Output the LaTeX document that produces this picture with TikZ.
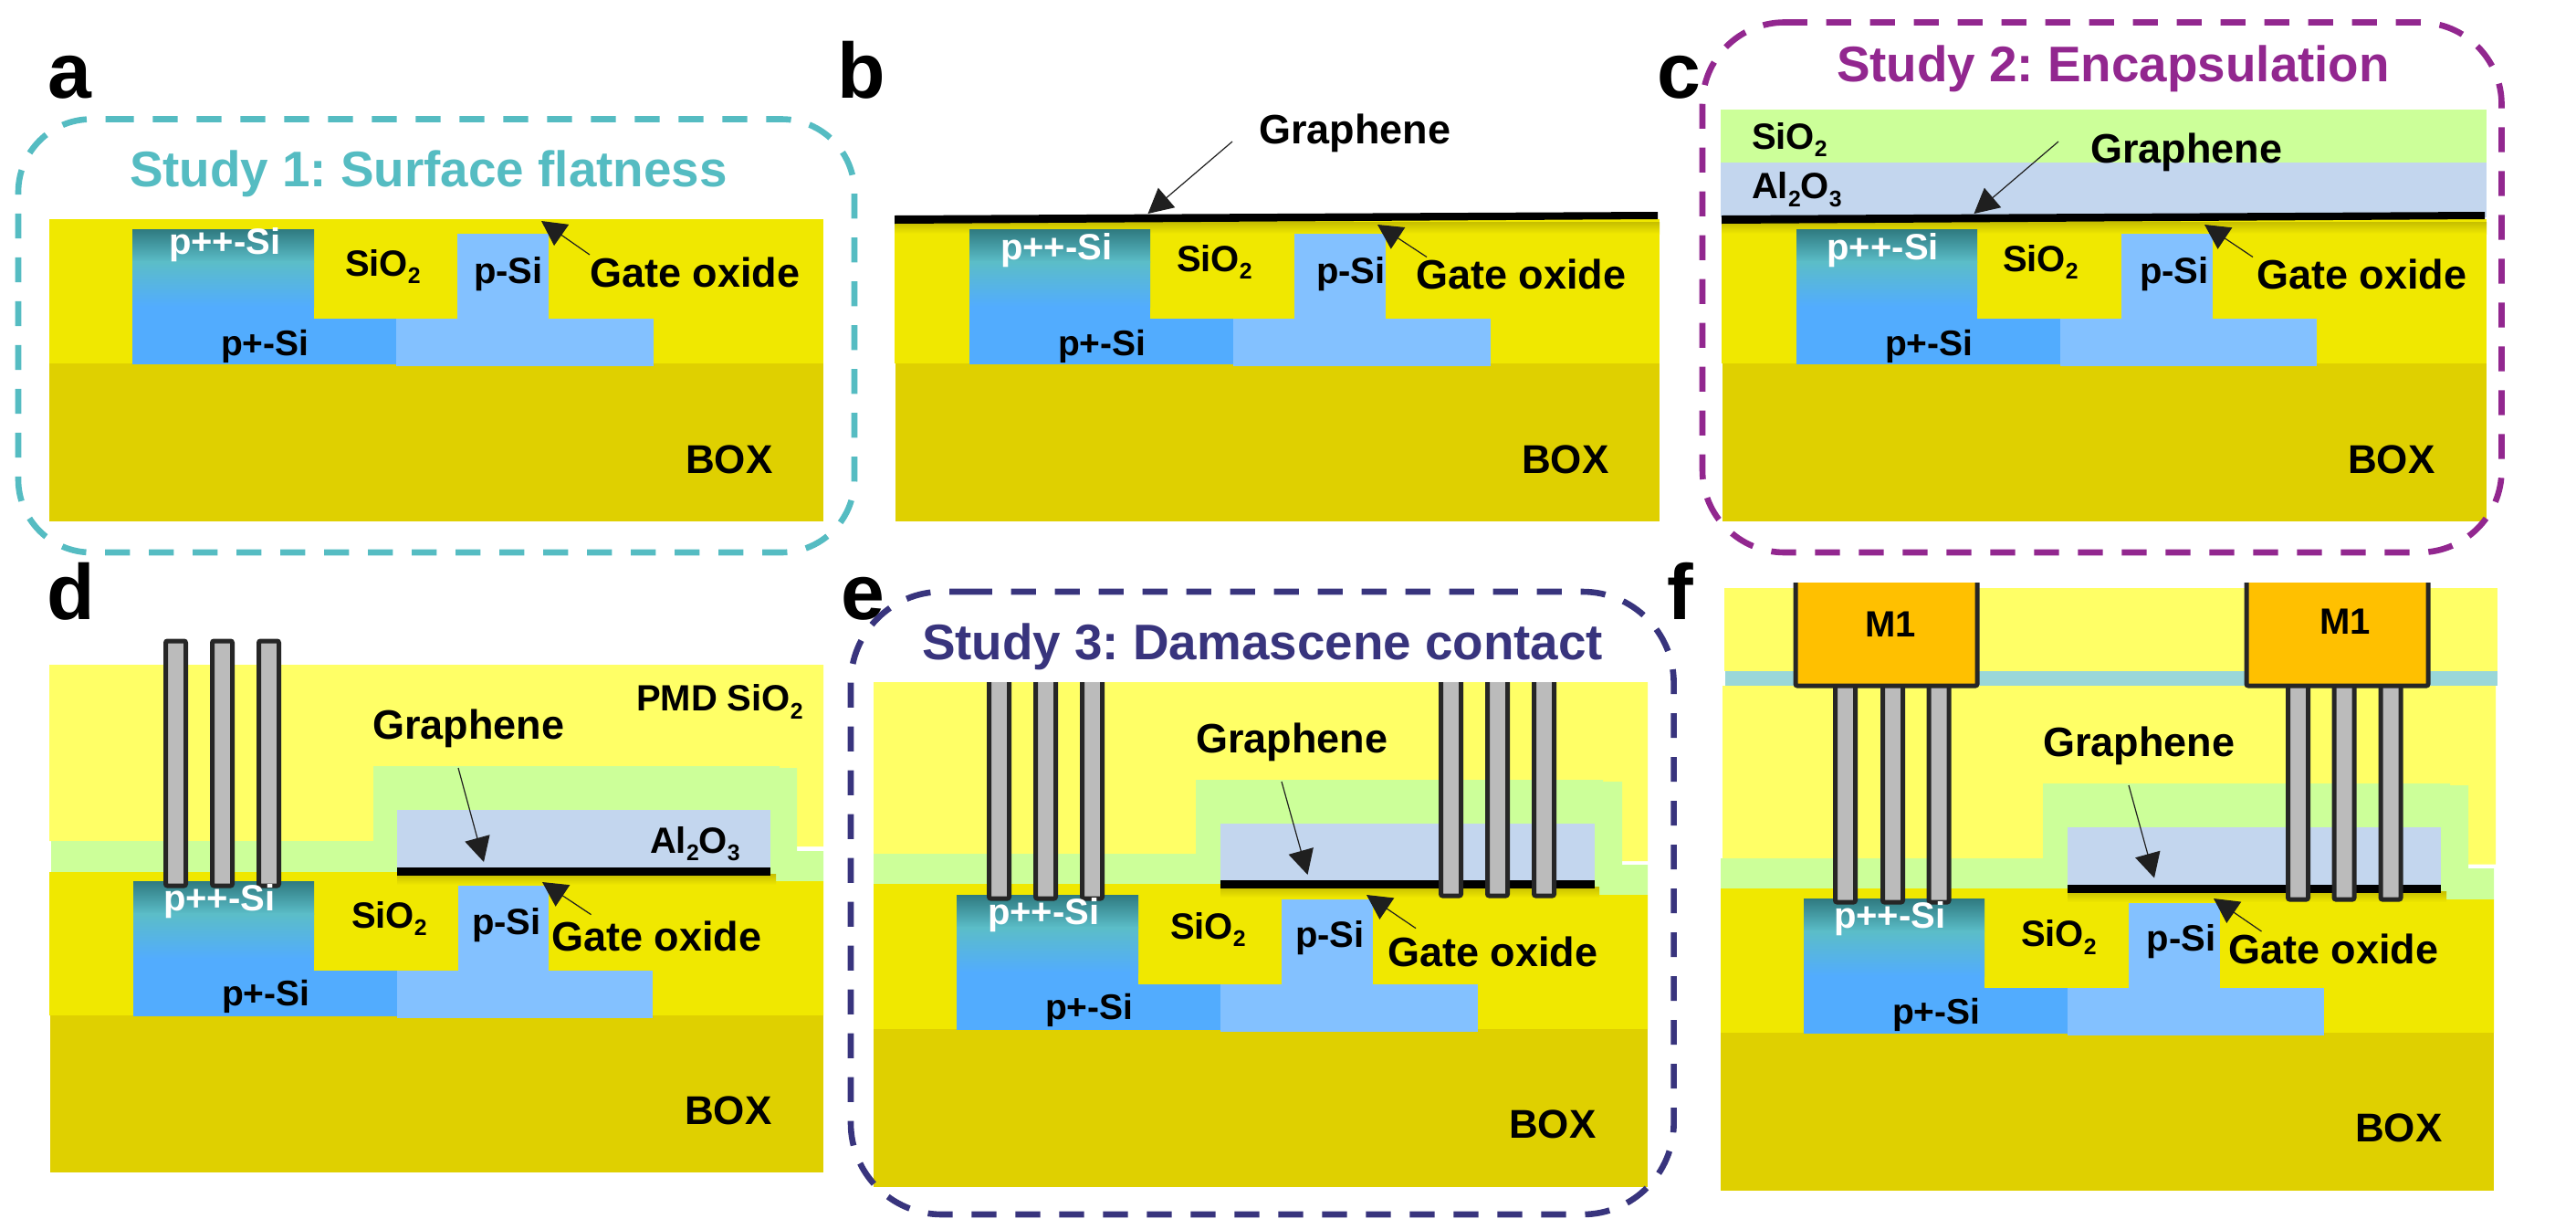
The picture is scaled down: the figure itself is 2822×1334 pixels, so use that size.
\documentclass[tikz,border=0pt]{standalone}
\usepackage{fontspec}
\setmainfont{Liberation Sans}
\usetikzlibrary{arrows.meta}
\frenchspacing
\definecolor{cOx}{HTML}{F0E800}
\definecolor{cBox}{HTML}{DFD000}
\definecolor{cShadow}{HTML}{C6BE00}
\definecolor{cSi}{HTML}{52ACFE}
\definecolor{cLSi}{HTML}{83C1FF}
\definecolor{cTealA}{HTML}{2F7A80}
\definecolor{cTealB}{HTML}{5BBDC8}
\definecolor{cPmd}{HTML}{FFFF66}
\definecolor{cGreen}{HTML}{CCFF99}
\definecolor{cAl}{HTML}{C3D6EE}
\definecolor{cStrip}{HTML}{9AD7D9}
\definecolor{cM}{HTML}{FFC000}
\definecolor{cVia}{HTML}{BBBBBB}
\definecolor{cEdge}{HTML}{262626}
\definecolor{cHead}{HTML}{1F1F1F}
\definecolor{cStudyA}{HTML}{55BCC2}
\definecolor{cStudyB}{HTML}{92278F}
\definecolor{cStudyC}{HTML}{38347D}
\tikzset{
  tbase/.style={anchor=base west,inner sep=0pt,outer sep=0pt},
  tforty/.style={tbase,font=\fontsize{20}{24}\selectfont\bfseries},
  tplus/.style={tforty,font=\fontsize{19.5}{24}\selectfont\bfseries},
  tbig/.style={tbase,font=\fontsize{22.5}{26}\selectfont\bfseries},
  tbox/.style={tbase,font=\fontsize{22}{26}\selectfont\bfseries},
  ttitle/.style={tbase,font=\fontsize{27.4}{32}\selectfont\bfseries},
  tletter/.style={tbase,font=\fontsize{43}{48}\selectfont\bfseries},
  dbox/.style={line width=3.3pt,line cap=butt,dash pattern=on 13.6pt off 10.4pt},
  ptrline/.style={cHead,line width=0.6pt,-{Triangle[length=13.5pt,width=14pt,fill=cHead]}},
  viabar/.style={fill=cVia,draw=cEdge,line width=2.5pt,rounded corners=1pt},
  metalbar/.style={fill=cM,draw=cEdge,line width=2.5pt,rounded corners=1pt}
}
\newcommand\lbl[5]{\node[#2] (#1) at (#3,#4) {#5};}
\newcommand\ptr[5]{\coordinate (#1-tail) at (#2,#3);\coordinate (#1-tip) at (#4,#5);\draw[ptrline] (#1-tail) -- (#1-tip);}
\newcommand\subsc[1]{\raisebox{-0.22em}{\scalebox{0.62}{#1}}}
\newcommand\sio{SiO\subsc{2}}
\newcommand\alo{Al\subsc{2}O\subsc{3}}
% colour, x1, y1, x2, y2, radius, start x of first dash
\newcommand\studybox[7]{\draw[dbox,#1,rounded corners=#6] (#7,#3) -- (#4,#3) -- (#4,#5) -- (#2,#5) -- (#2,#3) -- (#7,#3);}
% top, p++ left, p++ right, p+ right, fin left, fin right, base right
\newcommand\bodies[7]{%
  \begin{scope}[shift={(0,#1)}]
    \fill[cSi] (#2,0) rectangle (#3,148);
    \fill[cSi] (#3,98) rectangle (#4,148);
    \fill[cLSi] (#4,98) rectangle (#7,150);
    \fill[cLSi] (#5,5) rectangle (#6,98.5);
    \shade[top color=cTealA,bottom color=cTealB] (#2,0) rectangle (#3,36);
    \shade[top color=cTealB,bottom color=cSi] (#2,35.8) rectangle (#3,85);
  \end{scope}}
\newcommand\viaopen[3]{\filldraw[viabar] (#1-11,#2) -- (#1-11,#3) -- (#1+11,#3) -- (#1+11,#2);}
\newcommand\viaclosed[3]{\filldraw[viabar] (#1-11,#2) rectangle (#1+11,#3);}
\newcommand\metal[3]{\filldraw[metalbar] (#1,#3) -- (#1,751) -- (#2,751) -- (#2,#3);}
\begin{document}
\begin{tikzpicture}[x=0.5pt,y=-0.5pt]
\useasboundingbox (0,0) rectangle (2822,1334);
\fill[white] (0,0) rectangle (2822,1334);

% ---------- panel a
\fill[cOx] (54,240) rectangle (902,398);
\fill[cBox] (54,398) rectangle (902,571);
\bodies{251}{145}{344}{434}{501}{601}{716}
\lbl{a-pp}{tforty,text=white}{185}{278}{p++-Si}
\lbl{a-sio}{tforty}{378}{302}{\sio}
\lbl{a-ps}{tforty}{519}{310}{p-Si}
\lbl{a-gate}{tbig}{646}{314}{Gate oxide}
\lbl{a-pl}{tplus}{242}{389}{p+-Si}
\lbl{a-box}{tbox}{751}{518}{BOX}
\ptr{a-arrow}{646}{279}{593}{242}
\studybox{cStudyA}{20}{130.5}{936}{605}{40pt}{119.4}
\lbl{a-title}{ttitle,text=cStudyA}{142}{204}{Study 1: Surface flatness}
\lbl{a-letter}{tletter}{53}{107}{a}

% ---------- panel b
\fill[cOx] (980,240) rectangle (1818,398);
\fill[cBox] (981,398) rectangle (1818,571);
\shade[top color=cShadow,bottom color=cOx] (980,243) rectangle (1818,256);
\fill[black] (980,236) -- (1816,232) -- (1816,240) -- (980,245) -- cycle;
\bodies{251}{1062}{1260}{1351}{1418}{1518}{1633}
\lbl{b-pp}{tforty,text=white}{1096}{284}{p++-Si}
\lbl{b-sio}{tforty}{1289}{297}{\sio}
\lbl{b-ps}{tforty}{1442}{310}{p-Si}
\lbl{b-gate}{tbig}{1551}{316}{Gate oxide}
\lbl{b-pl}{tplus}{1159}{389}{p+-Si}
\lbl{b-box}{tbox}{1667}{518}{BOX}
\lbl{b-gr}{tbig}{1379}{157}{Graphene}
\ptr{b-arrow1}{1350}{155}{1257.5}{234}
\ptr{b-arrow2}{1563}{281.5}{1509}{246}
\lbl{b-letter}{tletter}{917}{107}{b}

% ---------- panel c
\fill[cGreen] (1885,120) rectangle (2724,178);
\fill[cAl] (1885,178) rectangle (2724,238);
\fill[cOx] (1886,240) rectangle (2724,398);
\fill[cBox] (1887,398) rectangle (2724,571);
\shade[top color=cShadow,bottom color=cOx] (1886,243) rectangle (2724,256);
\fill[black] (1886,236) -- (2722,232) -- (2722,240) -- (1886,245) -- cycle;
\bodies{251}{1968}{2166}{2257}{2324}{2424}{2538}
\lbl{c-pp}{tforty,text=white}{2001.5}{284}{p++-Si}
\lbl{c-sio}{tforty}{2194}{297}{\sio}
\lbl{c-ps}{tforty}{2344}{310}{p-Si}
\lbl{c-gate}{tbig}{2472}{316}{Gate oxide}
\lbl{c-pl}{tplus}{2065}{389}{p+-Si}
\lbl{c-box}{tbox}{2572}{518}{BOX}
\lbl{c-sio2}{tforty}{1919}{163}{\sio}
\lbl{c-al}{tforty}{1919}{217.5}{\alo}
\lbl{c-gr}{tbig}{2290}{178}{Graphene}
\ptr{c-arrow1}{2255}{155}{2162.5}{234}
\ptr{c-arrow2}{2468}{281.5}{2415}{246}
\studybox{cStudyB}{1865}{24.5}{2740.5}{605}{45pt}{1952.7}
\lbl{c-title}{ttitle,text=cStudyB}{2012}{89}{Study 2: Encapsulation}
\lbl{c-letter}{tletter}{1815}{107}{c}

% ---------- panel d
\fill[cPmd] (54,728) -- (902,728) -- (902,927) -- (409,927) -- (409,921) -- (54,921) -- cycle;
\fill[cGreen] (56,921) -- (409,921) -- (409,839) -- (854,839) -- (854,841) -- (873,841) -- (873,932) -- (902,932) -- (902,965) -- (844,965) -- (844,956) -- (56,956) -- cycle;
\fill[cOx] (54,955) -- (844,955) -- (844,965) -- (902,965) -- (902,1112) -- (54,1112) -- cycle;
\fill[cBox] (55,1112) rectangle (902,1284);
\fill[cAl] (435,887) rectangle (844,950);
\shade[top color=cShadow,bottom color=cOx] (435,957) rectangle (850,969);
\fill[black] (435,950) rectangle (844,959);
\bodies{965}{146}{344}{435}{502}{601}{715}
\viaclosed{192.5}{702}{970}
\viaclosed{243.5}{702}{970}
\viaclosed{294.5}{702}{970}
\lbl{d-pp}{tforty,text=white}{179}{997}{p++-Si}
\lbl{d-sio}{tforty}{385}{1016}{\sio}
\lbl{d-ps}{tforty}{517}{1023}{p-Si}
\lbl{d-gate}{tbig}{604}{1041}{Gate oxide}
\lbl{d-pl}{tplus}{243}{1101}{p+-Si}
\lbl{d-box}{tbox}{750}{1231}{BOX}
\lbl{d-pmd}{tforty}{697}{778.5}{PMD \sio}
\lbl{d-gr}{tbig}{408}{809}{Graphene}
\lbl{d-al}{tforty}{712}{934}{\alo}
\ptr{d-arrow1}{502}{841}{530}{944}
\ptr{d-arrow2}{647.5}{1001.6}{594}{966}
\lbl{d-letter}{tletter}{51}{678}{d}

% ---------- panel e
\fill[cPmd] (957,747) -- (1805,747) -- (1805,943) -- (1310,943) -- (1310,935) -- (957,935) -- cycle;
\fill[cGreen] (957,935) -- (1310,935) -- (1310,854) -- (1756,854) -- (1756,856) -- (1777,856) -- (1777,947) -- (1805,947) -- (1805,980) -- (1747,980) -- (1747,969) -- (957,969) -- cycle;
\fill[cOx] (957,968) -- (1747,968) -- (1747,980) -- (1805,980) -- (1805,1127) -- (957,1127) -- cycle;
\fill[cBox] (957,1127) rectangle (1805,1300);
\fill[cAl] (1337,902) rectangle (1747,964);
\shade[top color=cShadow,bottom color=cOx] (1337,971) rectangle (1752,983);
\fill[black] (1337,964) rectangle (1747,973);
\bodies{980}{1048}{1247}{1337}{1404}{1504}{1619}
\viaopen{1094.5}{747}{984}
\viaopen{1145.5}{747}{984}
\viaopen{1196.5}{747}{984}
\viaopen{1589.5}{747}{981}
\viaopen{1640.5}{747}{981}
\viaopen{1691.5}{747}{981}
\lbl{e-pp}{tforty,text=white}{1082}{1012}{p++-Si}
\lbl{e-sio}{tforty}{1282}{1028}{\sio}
\lbl{e-ps}{tforty}{1419}{1037}{p-Si}
\lbl{e-gate}{tbig}{1520}{1058.5}{Gate oxide}
\lbl{e-pl}{tplus}{1145}{1116}{p+-Si}
\lbl{e-box}{tbox}{1653}{1246}{BOX}
\lbl{e-gr}{tbig}{1310}{824}{Graphene}
\ptr{e-arrow1}{1404}{856}{1432.5}{958}
\ptr{e-arrow2}{1551}{1016.6}{1497}{980}
\studybox{cStudyC}{932}{648}{1833.6}{1330}{50pt}{1059.7}
\lbl{e-title}{ttitle,text=cStudyC,font=\fontsize{27.4}{32}\selectfont\bfseries}{1010}{722.5}{Study 3: Damascene contact}
\lbl{e-letter}{tletter}{921}{678}{e}

% ---------- panel f
\fill[cPmd] (1889,644) rectangle (2736,735);
\fill[cStrip] (1890,735) rectangle (2736,751);
\fill[cPmd] (1887,751) -- (2734,751) -- (2734,946.5) -- (2238,946.5) -- (2238,940) -- (1887,940) -- cycle;
\fill[cGreen] (1885,940) -- (2238,940) -- (2238,858) -- (2684,858) -- (2684,860) -- (2704,860) -- (2704,951) -- (2732,951) -- (2732,985) -- (2674,985) -- (2674,974) -- (1885,974) -- cycle;
\fill[cOx] (1885,973) -- (2674,973) -- (2674,985) -- (2732,985) -- (2732,1131) -- (1885,1131) -- cycle;
\fill[cBox] (1885,1131) rectangle (2732,1303.5);
\fill[cAl] (2265,906) rectangle (2674,969);
\shade[top color=cShadow,bottom color=cOx] (2265,976) rectangle (2680,988);
\fill[black] (2265,969) rectangle (2674,978);
\bodies{984}{1976}{2174}{2265}{2332}{2432}{2546}
\viaopen{2021.5}{740}{988}
\viaopen{2073.5}{740}{988}
\viaopen{2124}{740}{988}
\viaopen{2517.5}{740}{985}
\viaopen{2568}{740}{985}
\viaopen{2619}{740}{985}
\metal{1967}{2166}{638}
\metal{2461}{2660}{638}
\lbl{f-m1}{tforty}{2043}{697}{M1}
\lbl{f-m2}{tforty}{2541}{694}{M1}
\lbl{f-pp}{tforty,text=white}{2009}{1016}{p++-Si}
\lbl{f-sio}{tforty}{2214}{1036.7}{\sio}
\lbl{f-ps}{tforty}{2351.6}{1041}{p-Si}
\lbl{f-gate}{tbig}{2441}{1055}{Gate oxide}
\lbl{f-pl}{tplus}{2073}{1121}{p+-Si}
\lbl{f-box}{tbox}{2580}{1250.7}{BOX}
\lbl{f-gr}{tbig}{2238}{828.5}{Graphene}
\ptr{f-arrow1}{2332}{860}{2360}{961.5}
\ptr{f-arrow2}{2477.5}{1020}{2425}{984}
\lbl{f-letter}{tletter}{1826}{678}{f}
\end{tikzpicture}
\end{document}
